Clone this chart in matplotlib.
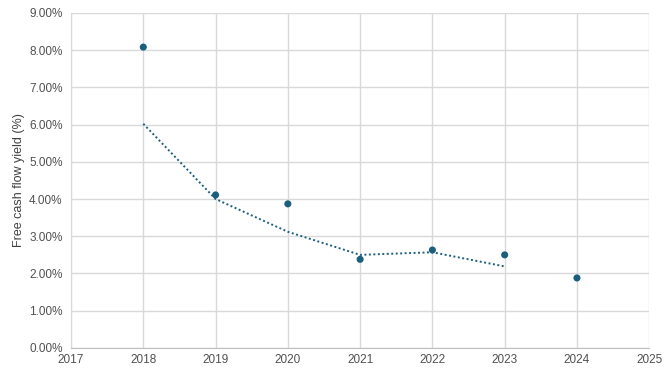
import matplotlib.pyplot as plt
from matplotlib.ticker import FuncFormatter

plt.rcParams['font.family'] = ['Liberation Sans', 'DejaVu Sans']

years = [2018, 2019, 2020, 2021, 2022, 2023, 2024]
fcf_yield = [8.08, 4.11, 3.87, 2.38, 2.63, 2.50, 1.88]

# trendline (2-period moving average as drawn in the source)
trend_years = [2018, 2019, 2020, 2021, 2022, 2023]
trend_vals = [6.02, 4.00, 3.12, 2.50, 2.57, 2.19]

blue = '#1b5e7e'
grid = '#d9d9d9'

fig = plt.figure(figsize=(6.7, 3.77), dpi=100)
ax = fig.add_axes([0.106, 0.077, 0.863, 0.889])

ax.plot(trend_years, trend_vals, linestyle=(0, (1, 1.3)), color=blue, lw=1.4, zorder=3)
ax.scatter(years, fcf_yield, s=26, color=blue, zorder=4, edgecolors='none')

ax.set_xlim(2017, 2025)
ax.set_ylim(0, 9)
ax.set_xticks(range(2017, 2026))
ax.set_yticks(range(0, 10))
ax.yaxis.set_major_formatter(FuncFormatter(lambda v, p: f'{v:.2f}%'))

ax.grid(True, color=grid, lw=1)
ax.set_axisbelow(True)
for s in ['top', 'right']:
    ax.spines[s].set_visible(False)
ax.spines['left'].set_color(grid)
ax.spines['bottom'].set_color('#bfbfbf')
ax.tick_params(length=0, labelsize=8.5, colors='#505050', pad=6)
ax.tick_params(axis='x', pad=4)

ax.set_ylabel('Free cash flow yield (%)', fontsize=9, color='#404040', labelpad=3)

fig.savefig('out.png', dpi=100)
